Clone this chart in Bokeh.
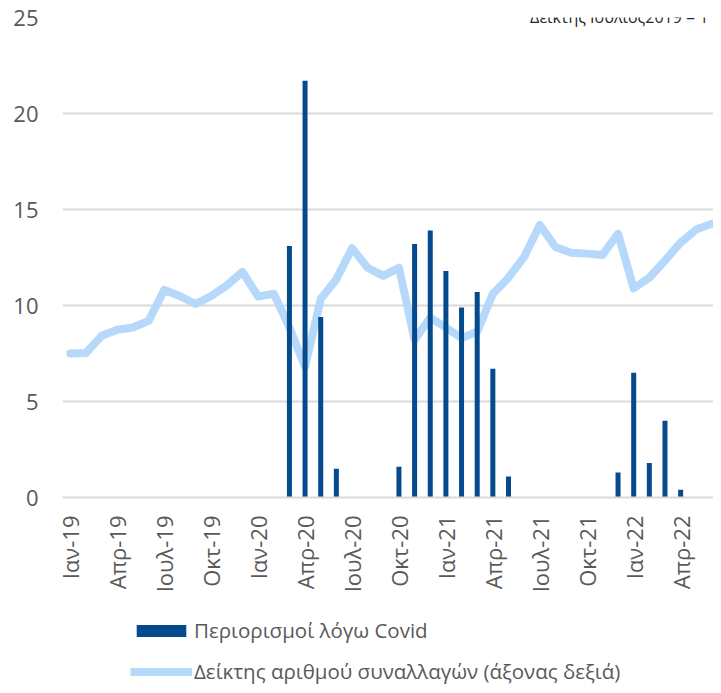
from bokeh.plotting import figure
from bokeh.models import Range1d, FixedTicker, Legend, LegendItem, Label, ColumnDataSource
from bokeh.layouts import column
from bokeh.embed import file_html
from bokeh.resources import INLINE
import math

# ---- data ----
month_names = ["Ιαν", "Φεβ", "Μαρ", "Απρ", "Μαϊ", "Ιουν", "Ιουλ", "Αυγ", "Σεπ", "Οκτ", "Νοε", "Δεκ"]
years = ["19", "20", "21", "22"]
months = [f"{m}-{y}" for y in years for m in month_names][:42]   # Ιαν-19 ... Ιουν-22

restrictions = [0, 0, 0, 0, 0, 0, 0, 0, 0, 0, 0, 0,
                0, 0, 13.1, 21.7, 9.4, 1.5, 0, 0, 0, 1.6, 13.2, 13.9,
                11.8, 9.9, 10.7, 6.7, 1.1, 0, 0, 0, 0, 0, 0, 1.3,
                6.5, 1.8, 4.0, 0.4, 0, 0]

transactions_index = [0.694, 0.696, 0.779, 0.808, 0.819, 0.851, 1.000, 0.971, 0.932, 0.971, 1.022, 1.087,
                      0.968, 0.982, 0.819, 0.630, 0.956, 1.052, 1.201, 1.107, 1.068, 1.107, 0.759, 0.867,
                      0.819, 0.768, 0.799, 0.982, 1.059, 1.159, 1.313, 1.207, 1.179, 1.175, 1.168, 1.271,
                      1.008, 1.059, 1.142, 1.228, 1.291, 1.319]

y_ticks = [0, 5, 10, 15, 20, 25]
x_tick_positions = list(range(0, len(months), 3))
bar_label = "Περιορισμοί λόγω Covid"
line_label = "Δείκτης αριθμού συναλλαγών (άξονας δεξιά)"
note = "Δείκτης Ιούλιος2019 = 1"

FONT = "Open Sans"
TXT = "#595959"
GRID = "#d9d9d9"
BAR_COLOR = "#044a8c"
LINE_COLOR = "#b5d8fb"

src = ColumnDataSource(dict(x=list(range(len(months))), bars=restrictions, idx=transactions_index))

p = figure(width=713, height=600, output_backend="svg", toolbar_location=None,
           x_range=Range1d(-0.5, len(months) - 0.9), y_range=Range1d(0, 25),
           min_border_left=62, min_border_right=0, min_border_top=17, min_border_bottom=103,
           outline_line_color=None, background_fill_color="white", border_fill_color="white")
p.extra_y_ranges = {"idx": Range1d(0, 25 / 10.81)}

p.xgrid.grid_line_color = None
p.ygrid.grid_line_color = GRID
p.ygrid.grid_line_width = 2
p.ygrid.ticker = FixedTicker(ticks=y_ticks)

ya = p.yaxis[0]
ya.ticker = FixedTicker(ticks=y_ticks)
ya.axis_line_color = None
ya.major_tick_line_color = None
ya.minor_tick_line_color = None
ya.major_tick_out = 0
ya.major_label_text_font = FONT
ya.major_label_text_font_size = "22px"
ya.major_label_text_color = TXT
ya.major_label_standoff = 24

xa = p.xaxis[0]
xa.ticker = FixedTicker(ticks=x_tick_positions)
xa.major_label_overrides = {i: months[i] for i in x_tick_positions}
xa.major_label_orientation = math.pi / 2
xa.axis_line_color = GRID
xa.axis_line_width = 2
xa.major_tick_line_color = None
xa.minor_tick_line_color = None
xa.major_tick_out = 0
xa.major_label_text_font = FONT
xa.major_label_text_font_size = "22px"
xa.major_label_text_color = TXT
xa.major_label_standoff = 18

p.line("x", "idx", source=src, y_range_name="idx", line_color=LINE_COLOR,
       line_width=8, line_join="round", line_cap="round")
p.vbar(x="x", top="bars", width=0.32, bottom=0, source=src,
       fill_color=BAR_COLOR, line_color=None)

p.add_layout(Label(x=646, y=481, x_units="screen", y_units="screen", text=note,
                   text_align="right", text_baseline="alphabetic",
                   text_font=FONT, text_font_size="16px", text_color="#262626"))

# ---- legend strip (separate canvas under the chart) ----
# hidden proxy renderers share the chart's source and only supply the legend swatches
lg = figure(width=713, height=85, output_backend="svg", toolbar_location=None,
            x_axis_type=None, y_axis_type=None, x_range=Range1d(-200, -190),
            y_range=Range1d(-20, -10),
            min_border=0, min_border_left=0, min_border_right=0, min_border_top=0,
            min_border_bottom=0, outline_line_color=None, background_fill_color="white",
            border_fill_color="white")
lg.xgrid.grid_line_color = None
lg.ygrid.grid_line_color = None
bar_proxy = lg.vbar(x="x", top="bars", width=0.32, bottom=0, source=src,
                    fill_color=BAR_COLOR, line_color=None, visible=False)
line_proxy = lg.line(x="x", y="idx", source=src, line_color=LINE_COLOR, line_width=8,
                     visible=False)

legend = Legend(items=[LegendItem(label=bar_label, renderers=[bar_proxy]),
                       LegendItem(label=line_label, renderers=[line_proxy])],
                location=(68, 0), orientation="vertical",
                glyph_width=62, glyph_height=15, label_standoff=2, spacing=13,
                padding=0, margin=0, border_line_color=None, background_fill_alpha=0,
                inactive_fill_alpha=0, click_policy="none",
                label_text_font=FONT, label_text_font_size="20.5px", label_text_color=TXT)
lg.add_layout(legend, "center")

page = column(p, lg, spacing=0)
open("out.html", "w").write(file_html(page, INLINE))
